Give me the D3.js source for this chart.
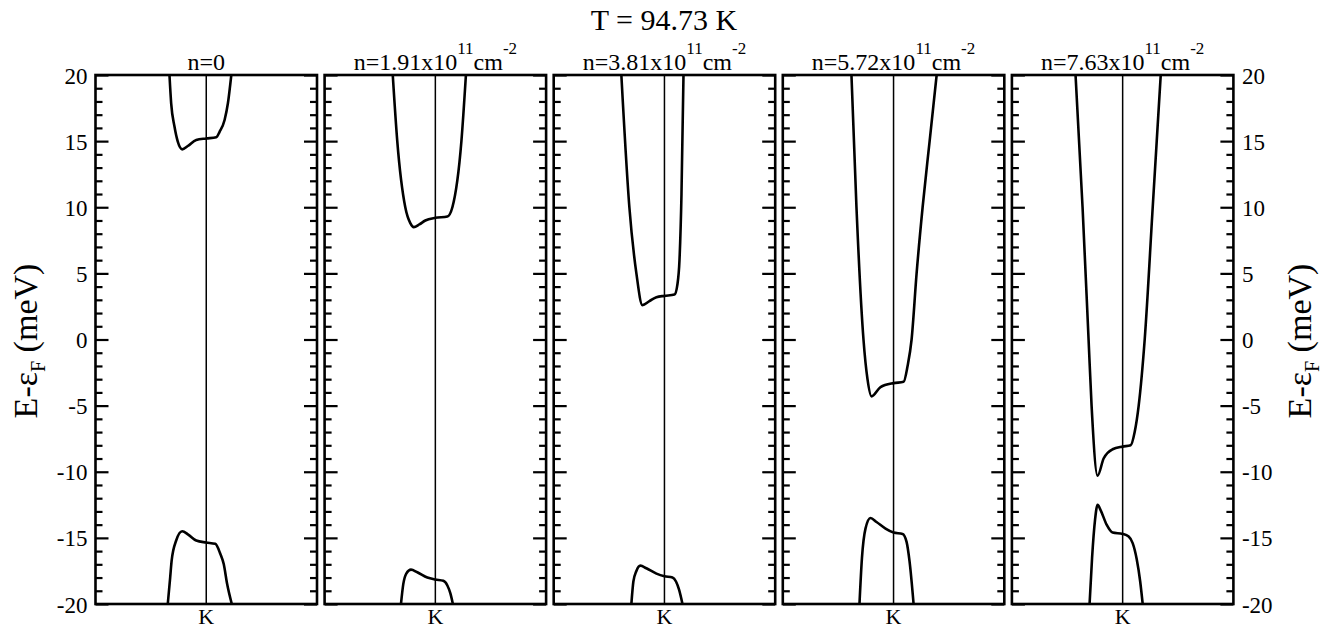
<!DOCTYPE html>
<html>
<head>
<meta charset="utf-8">
<script src="https://cdn.jsdelivr.net/npm/d3@7"></script>
<style>
  body { margin: 0; background: #fff; }
  svg text { font-family: "Liberation Serif", "DejaVu Serif", "Times New Roman", Times, serif; fill: #000; }
</style>
</head>
<body>
<svg width="1326" height="628"></svg>
<script>
// carrier densities (x10^11 cm^-2), null = undoped
const densities = [null, "1.91", "3.81", "5.72", "7.63"];
const yTicks = [-20, -15, -10, -5, 0, 5, 10, 15, 20];

// band dispersion around K, k in arbitrary units (K = 0), E in meV
const upperK = [
  [-3.67, -3.5, -3.17, -2.84, -2.4, -1.84, -1.0, 0, 1.0, 1.33, 1.83, 2.16, 2.5],
  [-4.25, -3.8, -3.0, -2.5, -2.15, -1.6, -1.0, 0, 1.2, 1.7, 2.6, 3.05],
  [-4.3, -3.5, -2.8, -2.2, -1.5, -0.8, 0, 1.0, 1.3, 1.5, 1.7, 1.9],
  [-4.2, -3.7, -3.0, -2.6, -2.2, -1.3, 0, 1.0, 1.4, 1.8, 2.3, 2.9, 3.6, 4.3],
  [-4.7, -4.0, -3.4, -3.1, -2.5, -1.9, -1.0, 0, 0.8, 1.2, 1.6, 2.2, 3.0, 3.8]
];
const upperE = [
  [20, 17.86, 16.1, 14.96, 14.38, 14.63, 15.09, 15.2, 15.29, 15.7, 16.6, 17.86, 20],
  [20, 15, 10, 8.8, 8.5, 8.7, 9.0, 9.2, 9.3, 10, 15, 20],
  [20, 10, 5, 2.6, 2.9, 3.2, 3.3, 3.4, 4.2, 6, 11, 20],
  [20, 10, 0, -3, -4.3, -3.6, -3.3, -3.2, -2.0, 0, 5, 10, 15, 20],
  [20, 10, 0, -5, -10.3, -9, -8.3, -8.1, -8.0, -7, -5, 0, 10, 20]
];
const lowerK = [
  [-3.84, -3.6, -3.45, -3.0, -2.4, -1.8, -1.0, 0, 0.9, 1.4, 1.75, 2.07, 2.55],
  [-3.43, -3.2, -2.9, -2.43, -1.8, -0.8, 0, 0.8, 1.2, 1.5, 1.75],
  [-3.3, -3.1, -2.8, -2.4, -1.8, -0.8, 0, 0.8, 1.15, 1.45, 1.8],
  [-3.4, -3.15, -2.8, -2.3, -1.7, -0.8, 0, 0.9, 1.3, 1.6, 2.0],
  [-3.3, -3.05, -2.75, -2.5, -2.2, -1.6, -1.0, 0, 0.6, 1.0, 1.4, 1.75, 2.0]
];
const lowerE = [
  [-20, -18, -16.7, -15.2, -14.5, -14.75, -15.2, -15.35, -15.45, -16.2, -17, -18.43, -20],
  [-20, -18.5, -17.7, -17.4, -17.6, -18.0, -18.15, -18.25, -18.6, -19.2, -20],
  [-20, -18.3, -17.5, -17.1, -17.3, -17.7, -17.9, -18.0, -18.3, -18.9, -20],
  [-20, -16.5, -14.3, -13.5, -13.8, -14.3, -14.6, -14.7, -15.3, -16.8, -20],
  [-20, -16.5, -13.6, -12.5, -12.9, -14.0, -14.6, -14.7, -14.9, -15.4, -16.6, -18.3, -20]
];

const left0 = 95.5, step = 229.1, pw = 221.5;
const yTop = 75, yBottom = 604;

const svg = d3.select("svg");

const y = d3.scaleLinear().domain([-20, 20]).range([yBottom, yTop]);
const minors = d3.range(-20, 21, 1).filter((d) => d % 5 !== 0);

svg.append("text")
  .attr("x", 664).attr("y", 30)
  .attr("text-anchor", "middle")
  .attr("font-size", 30)
  .text("T = 94.73 K");

densities.forEach((dens, i) => {
  const x0 = left0 + i * step;
  const x = d3.scaleLinear().domain([-11.05, 11.05]).range([x0, x0 + pw]);
  const g = svg.append("g");

  g.append("clipPath").attr("id", "clip" + i)
    .append("rect")
    .attr("x", x0).attr("y", yTop)
    .attr("width", pw).attr("height", yBottom - yTop);

  // K line
  g.append("line")
    .attr("x1", x(0)).attr("x2", x(0))
    .attr("y1", yTop).attr("y2", yBottom)
    .attr("stroke", "#000").attr("stroke-width", 1.5);

  const line = d3.line()
    .x((d) => x(d[0]))
    .y((d) => y(d[1]))
    .curve(d3.curveMonotoneX);

  [[upperK[i], upperE[i]], [lowerK[i], lowerE[i]]].forEach(([ks, es]) => {
    g.append("path")
      .attr("clip-path", `url(#clip${i})`)
      .attr("d", line(ks.map((k, j) => [k, es[j]])))
      .attr("fill", "none")
      .attr("stroke", "#000")
      .attr("stroke-width", 2.6);
  });

  // ticks, inward on both sides
  const fmt = (d) => String(d);
  const axL = g.append("g").attr("transform", `translate(${x0},0)`);
  axL.append("g").call(d3.axisLeft(y).tickValues(minors).tickSize(-7).tickFormat(""));
  axL.append("g").call(d3.axisLeft(y).tickValues(yTicks).tickSize(-13)
    .tickFormat(i === 0 ? fmt : "").tickPadding(8));
  const axR = g.append("g").attr("transform", `translate(${x0 + pw},0)`);
  axR.append("g").call(d3.axisRight(y).tickValues(minors).tickSize(-7).tickFormat(""));
  axR.append("g").call(d3.axisRight(y).tickValues(yTicks).tickSize(-13)
    .tickFormat(i === densities.length - 1 ? fmt : "").tickPadding(8.5));
  g.selectAll(".domain").remove();
  g.selectAll(".tick line").attr("stroke-width", 2.2);
  g.selectAll("g").attr("font-family", null);
  g.selectAll(".tick text")
    .attr("font-size", 23)
    .attr("dy", "0.35em");

  // frame
  g.append("rect")
    .attr("x", x0).attr("y", yTop)
    .attr("width", pw).attr("height", yBottom - yTop)
    .attr("fill", "none").attr("stroke", "#000").attr("stroke-width", 2.6);

  g.append("text")
    .attr("x", x(0)).attr("y", 624)
    .attr("text-anchor", "middle")
    .attr("font-size", 22)
    .text("K");

  const t = g.append("text")
    .attr("x", x(0)).attr("y", 70)
    .attr("text-anchor", "middle")
    .attr("font-size", 24);
  if (dens === null) {
    t.text("n=0");
  } else {
    t.append("tspan").text(`n=${dens}x10`);
    t.append("tspan").attr("font-size", 17).attr("dy", -16).text("11");
    t.append("tspan").attr("dy", 16).text("cm");
    t.append("tspan").attr("font-size", 17).attr("dy", -16).text("-2");
  }
});

[37, 1311].forEach((bx) => {
  const lab = svg.append("text")
    .attr("transform", `translate(${bx},341) rotate(-90)`)
    .attr("text-anchor", "middle")
    .attr("font-size", 34);
  lab.append("tspan").text("E-\u03b5");
  lab.append("tspan").attr("font-size", 20).attr("dy", 8).text("F");
  lab.append("tspan").attr("dy", -8).text(" (meV)");
});
</script>
</body>
</html>
